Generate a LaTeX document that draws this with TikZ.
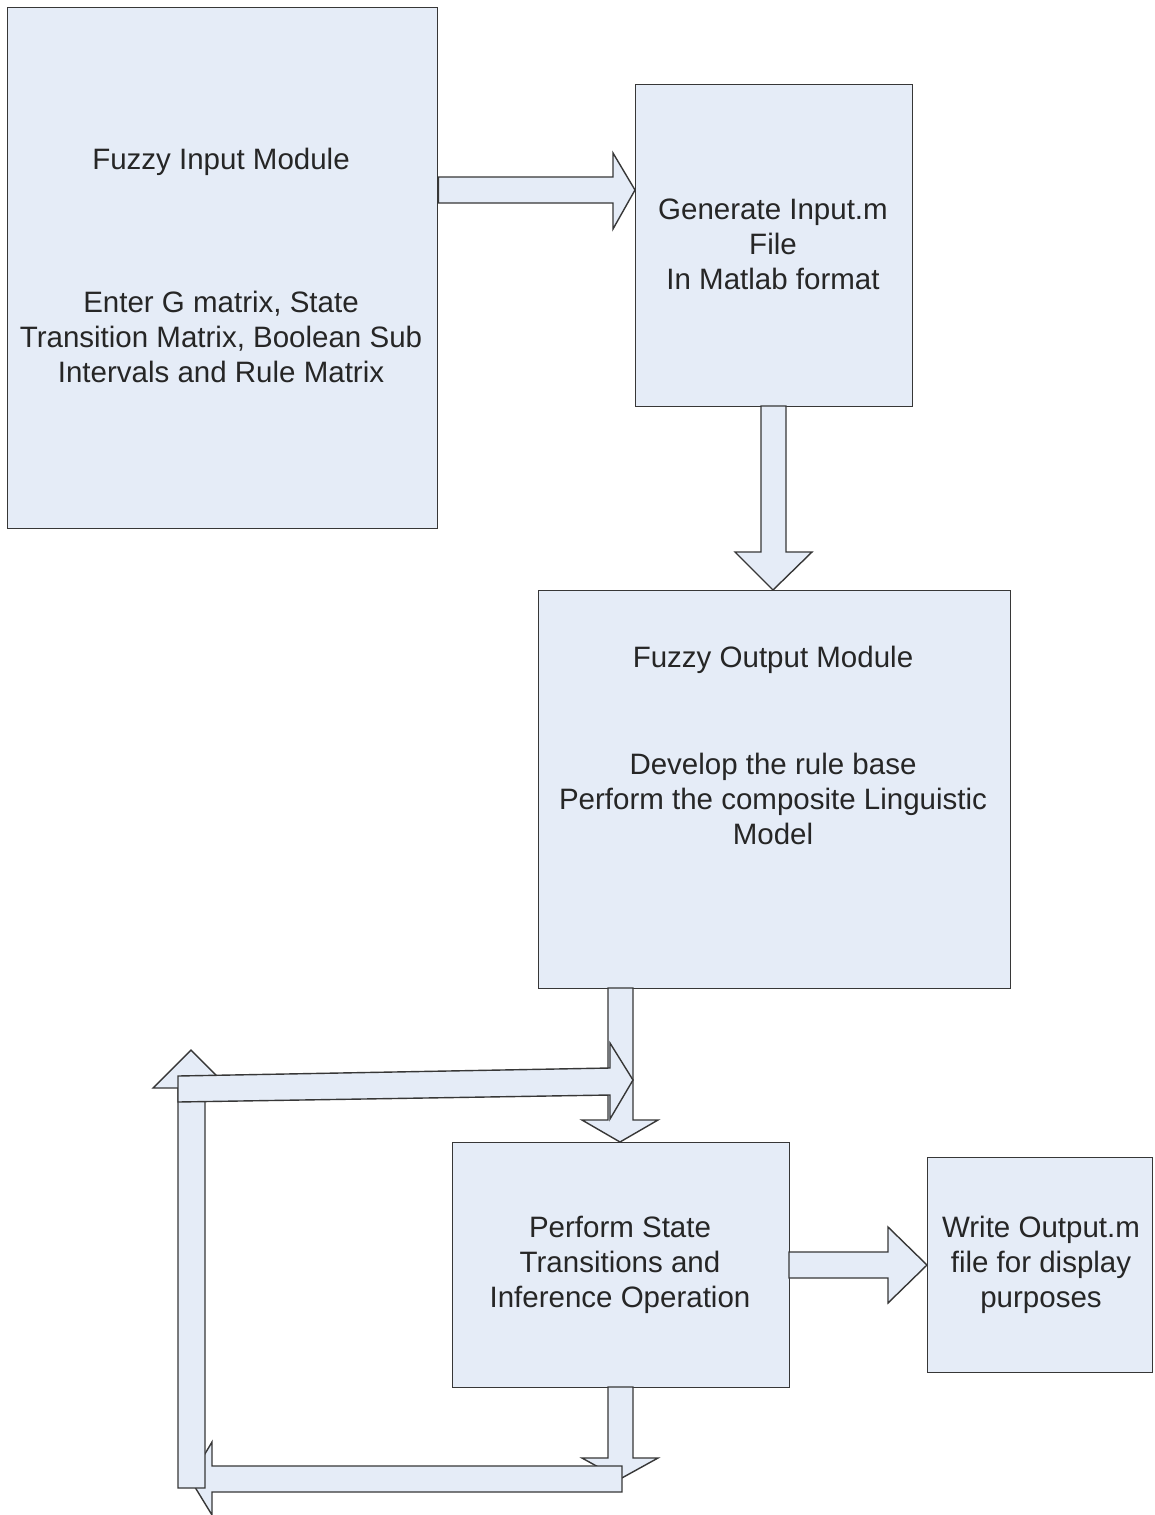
\documentclass[tikz,border=0pt]{standalone}
\usepackage{fontspec}
\setmainfont{Liberation Sans}
\definecolor{boxfill}{RGB}{229,236,247}
\definecolor{boxline}{RGB}{55,55,55}
\begin{document}
\begin{tikzpicture}[x=1pt,y=-1pt,
  box/.style={draw=boxline,fill=boxfill,line width=1.4pt,rectangle,inner sep=0pt,anchor=north west},
  blockarrow/.style={draw=boxline,fill=boxfill,line width=1.4pt,line join=miter},
  txt/.style={font=\fontsize{29.5}{35}\selectfont,align=center,inner sep=0pt,text=black!85}]
\useasboundingbox (0,0) rectangle (1154,1515);
\fill[white] (0,0) rectangle (1154,1515);
% boxes
\node[box,minimum width=430pt,minimum height=521pt] (A) at (7,7) {};
\node[box,minimum width=277pt,minimum height=322pt] (B) at (635,84) {};
\node[box,minimum width=472pt,minimum height=398pt] (C) at (538,590) {};
\node[box,minimum width=337pt,minimum height=245pt] (D) at (452,1142) {};
\node[box,minimum width=225pt,minimum height=215pt] (E) at (927,1157) {};
% texts
\node[txt] (Atitle) at (221,161.5) {Fuzzy Input Module};
\node[txt] (Abody) at (221,337) {Enter G matrix, State\\Transition Matrix, Boolean Sub\\Intervals and Rule Matrix};
\node[txt] (Btext) at (773,244) {Generate Input.m\\File\\In Matlab format};
\node[txt] (Ctitle) at (773,660) {Fuzzy Output Module};
\node[txt] (Cbody) at (773,799) {Develop the rule base\\Perform the composite Linguistic\\Model};
\node[txt] (Dtext) at (620,1265) {Perform State\\Transitions and\\Inference Operation};
\node[txt] (Etext) at (1041,1265) {Write Output.m\\file for display\\purposes};
% connectors (block arrows)
% C -> D
\draw[blockarrow] (608,988) -- (608,1120) -- (582,1120) -- (620,1142) -- (658,1120) -- (633,1120) -- (633,988) -- cycle;
% D -> down
\draw[blockarrow] (608,1387) -- (608,1458) -- (582,1458) -- (620,1479) -- (658,1458) -- (633,1458) -- (633,1387) -- cycle;
% bottom left-pointing arrow
\draw[blockarrow] (622,1466) -- (212,1466) -- (212,1442) -- (190,1479) -- (212,1515) -- (212,1492) -- (622,1492) -- cycle;
% left upward arrow
\draw[blockarrow] (178,1488) -- (178,1088) -- (153,1088) -- (191,1050) -- (229,1088) -- (205,1088) -- (205,1488) -- cycle;
% top right-pointing loop arrow
\draw[blockarrow] (178,1076) -- (610,1068) -- (610,1043) -- (633,1080) -- (610,1119) -- (610,1095) -- (178,1102) -- cycle;
% A -> B
\draw[blockarrow] (A.east |- 0,177) -- (613,177) -- (613,153) -- (B.west |- 0,190) -- (613,229) -- (613,203) -- (A.east |- 0,203) -- cycle;
% B -> C
\draw[blockarrow] (761,406) -- (761,552) -- (735,552) -- (C.north -| 773,0) -- (812,552) -- (786,552) -- (786,406) -- cycle;
% D -> E
\draw[blockarrow] (789,1252) -- (888,1252) -- (888,1227) -- (E.west |- 0,1265) -- (888,1303) -- (888,1278) -- (789,1278) -- cycle;
\end{tikzpicture}
\end{document}
